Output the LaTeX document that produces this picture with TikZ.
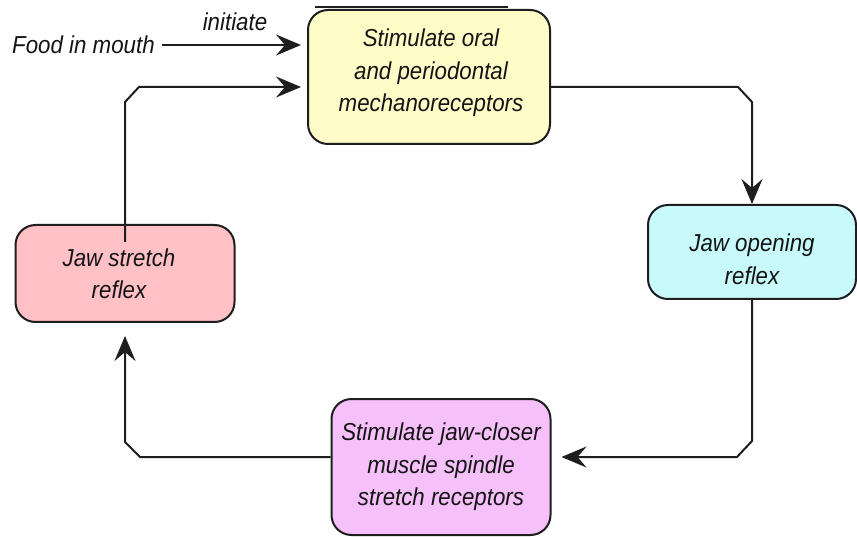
\documentclass[tikz,border=0pt]{standalone}
\usepackage{fontspec}
\setmainfont{Liberation Sans}[FakeStretch=0.91]
\usetikzlibrary{arrows.meta,calc}
\definecolor{yelbox}{RGB}{255,252,200}
\definecolor{cyanbox}{RGB}{200,250,252}
\definecolor{pinkbox}{RGB}{255,192,198}
\definecolor{violbox}{RGB}{246,192,250}
\definecolor{edge}{RGB}{30,30,30}
\definecolor{txt}{RGB}{20,20,20}
\newcommand\bxfont{\fontsize{24.5}{32.5}\selectfont\itshape}
\begin{document}
\begin{tikzpicture}[x=1pt,y=-1pt,
  box/.style={draw=edge, line width=2pt, rounded corners=20pt, inner sep=0pt},
  btxt/.style={align=center, inner sep=0pt, font=\bxfont, text=txt},
  arr/.style={draw=edge, line width=2pt, line join=miter,
              -{Stealth[length=25pt,width=21pt,inset=9pt]}},
  lbl/.style={font=\bxfont, text=txt, inner sep=0pt}]
\useasboundingbox (0,0) rectangle (857,537);
\fill[white] (0,0) rectangle (857,537);

% stray line above the top box
\draw[edge, line width=1.5pt] (315,7) -- (508,7);

\node[box, fill=yelbox, minimum width=242pt, minimum height=134pt] (top) at (429,77) {};
\node[btxt] (toptxt) at ([yshift=4pt,xshift=2pt]top.center)
  {Stimulate oral\\and periodontal\\mechanoreceptors};
\node[box, fill=cyanbox, minimum width=208pt, minimum height=94pt] (open) at (752,252) {};
\node[btxt] (opentxt) at ([yshift=-7pt]open.center) {Jaw opening\\reflex};
\node[box, fill=violbox, minimum width=219pt, minimum height=136pt] (bottom) at (441,467) {};
\node[btxt] (bottomtxt) at (bottom.center)
  {Stimulate jaw-closer\\muscle spindle\\stretch receptors};
\node[box, fill=pinkbox, minimum width=219pt, minimum height=97pt] (stretch) at (125,273.5) {};
\node[btxt] (stretchtxt) at ([xshift=-6pt]stretch.center) {Jaw stretch\\reflex};

\node[lbl, anchor=west] (food) at (12,45) {Food in mouth};
\node[lbl] (init) at (235,22) {initiate};

\draw[arr, shorten >=6pt] ([xshift=7pt]food.east) -- (food.east -| top.west);
\draw[arr, shorten >=6pt] ([yshift=-18pt]stretch.north) -- (125,102) -- (139,87) -- (top.west |- 0,87);
\draw[arr] (top.east |- 0,87) -- (738,87) -- (752,102) -- (open.north);
\draw[arr, shorten >=10pt] (open.south) -- (752,441) -- (737,457) -- (bottom.east |- 0,457);
\draw[arr, shorten >=13pt] (bottom.west |- 0,457) -- (140,457) -- (125,442) -- (stretch.south);
\end{tikzpicture}
\end{document}
